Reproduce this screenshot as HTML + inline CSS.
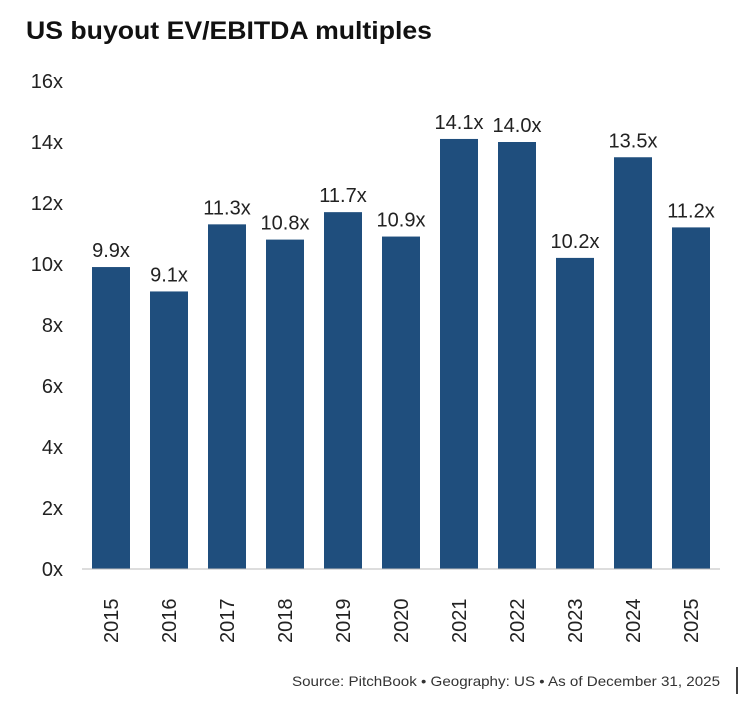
<!DOCTYPE html>
<html><head><meta charset="utf-8"><style>
body{margin:0;background:#fff;width:752px;height:715px;overflow:hidden;font-family:"Liberation Sans",sans-serif}
</style></head><body>
<svg width="752" height="715">
<text x="26" y="39" font-size="25" font-weight="bold" fill="#111" textLength="406" lengthAdjust="spacingAndGlyphs">US buyout EV/EBITDA multiples</text>
<g id="yaxis"></g>
<g id="bars"></g>
<line x1="82" x2="720" y1="569" y2="569" stroke="#bbb" stroke-width="1"/>
<g id="xaxis"></g>
<text x="720" y="686" font-size="14" fill="#333" text-anchor="end" textLength="428" lengthAdjust="spacingAndGlyphs">Source: PitchBook  •  Geography: US  •  As of December 31, 2025</text>
<line x1="737" x2="737" y1="667" y2="694" stroke="#000" stroke-width="1.5"/>
</svg>
<script>
const categories=["2015","2016","2017","2018","2019","2020","2021","2022","2023","2024","2025"];
const values=[9.9,9.1,11.3,10.8,11.7,10.9,14.1,14.0,10.2,13.5,11.2];
const valueLabels=["9.9x","9.1x","11.3x","10.8x","11.7x","10.9x","14.1x","14.0x","10.2x","13.5x","11.2x"];
const ticks=[0,2,4,6,8,10,12,14,16];
const ns="http://www.w3.org/2000/svg";
const y=v=>569-v*30.5;
const x=i=>92+i*58;
const bw=38;
const ya=document.getElementById('yaxis'),ba=document.getElementById('bars'),xa=document.getElementById('xaxis');
ticks.forEach(t=>{const e=document.createElementNS(ns,'text');


e.setAttribute('x',63);e.setAttribute('y',y(t)+7);e.setAttribute('font-size','20');e.setAttribute('fill','#222');e.setAttribute('text-anchor','end');
e.textContent=t+'x';ya.appendChild(e);});
values.forEach((v,i)=>{const r=document.createElementNS(ns,'rect');


r.setAttribute('x',x(i));r.setAttribute('y',y(v));r.setAttribute('width',bw);r.setAttribute('height',569-y(v));r.setAttribute('fill','#1f4e7d');ba.appendChild(r);
const l=document.createElementNS(ns,'text');


l.setAttribute('x',x(i)+bw/2);l.setAttribute('y',y(v)-10);l.setAttribute('font-size','20');l.setAttribute('fill','#222');l.setAttribute('text-anchor','middle');
l.textContent=valueLabels[i];ba.appendChild(l);
const c=document.createElementNS(ns,'text');


const cx=x(i)+bw/2+7;
c.setAttribute('transform','translate('+cx+',643) rotate(-90)');c.setAttribute('font-size','20');c.setAttribute('fill','#222');
c.textContent=categories[i];xa.appendChild(c);});
</script>
</body></html>
